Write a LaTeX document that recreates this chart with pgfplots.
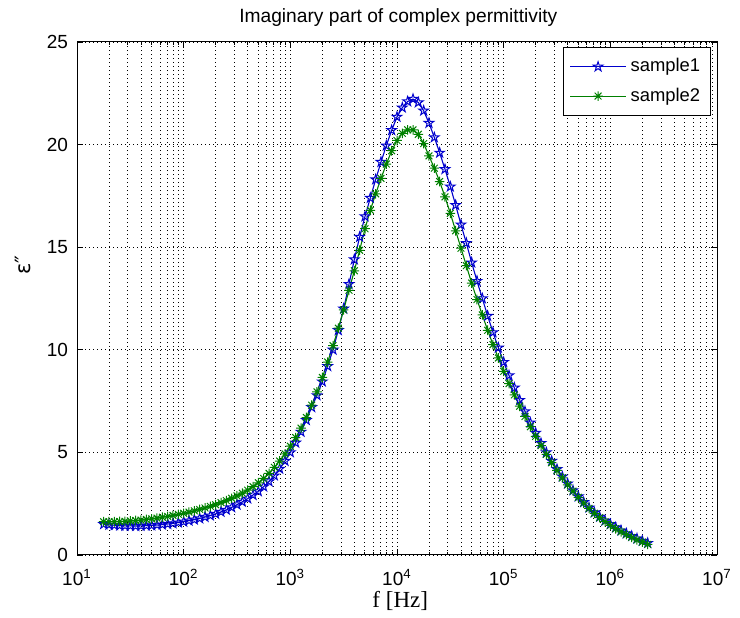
\documentclass[border=0pt]{standalone}
\usepackage{fontspec}
\setmainfont{Liberation Sans}
\newfontfamily\seriffont{Liberation Serif}
\newfontfamily\dejavu{DejaVu Sans}
\usepackage{pgfplots}
\pgfplotsset{compat=1.18}
\usepackage{pgfplotstable}

\definecolor{mlblue}{RGB}{0,0,205}
\definecolor{mlgreen}{RGB}{0,128,0}

\pgfdeclareplotmark{pentagram}{%
  \pgfpathmoveto{\pgfpointpolar{90}{\pgfplotmarksize}}%
  \pgfpathlineto{\pgfpointpolar{126}{0.382\pgfplotmarksize}}%
  \pgfpathlineto{\pgfpointpolar{162}{\pgfplotmarksize}}%
  \pgfpathlineto{\pgfpointpolar{198}{0.382\pgfplotmarksize}}%
  \pgfpathlineto{\pgfpointpolar{234}{\pgfplotmarksize}}%
  \pgfpathlineto{\pgfpointpolar{270}{0.382\pgfplotmarksize}}%
  \pgfpathlineto{\pgfpointpolar{306}{\pgfplotmarksize}}%
  \pgfpathlineto{\pgfpointpolar{342}{0.382\pgfplotmarksize}}%
  \pgfpathlineto{\pgfpointpolar{18}{\pgfplotmarksize}}%
  \pgfpathlineto{\pgfpointpolar{54}{0.382\pgfplotmarksize}}%
  \pgfpathclose
  \pgfusepathqstroke
}
\pgfdeclareplotmark{mlasterisk}{%
  \pgfpathmoveto{\pgfqpoint{0pt}{\pgfplotmarksize}}%
  \pgfpathlineto{\pgfqpoint{0pt}{-\pgfplotmarksize}}%
  \pgfpathmoveto{\pgfqpoint{\pgfplotmarksize}{0pt}}%
  \pgfpathlineto{\pgfqpoint{-\pgfplotmarksize}{0pt}}%
  \pgfpathmoveto{\pgfqpoint{0.707\pgfplotmarksize}{0.707\pgfplotmarksize}}%
  \pgfpathlineto{\pgfqpoint{-0.707\pgfplotmarksize}{-0.707\pgfplotmarksize}}%
  \pgfpathmoveto{\pgfqpoint{-0.707\pgfplotmarksize}{0.707\pgfplotmarksize}}%
  \pgfpathlineto{\pgfqpoint{0.707\pgfplotmarksize}{-0.707\pgfplotmarksize}}%
  \pgfusepathqstroke
}

\pgfplotstableread{
f b g
1.778e1 1.50 1.62
1.995e1 1.47 1.62
2.239e1 1.45 1.62
2.512e1 1.43 1.63
2.818e1 1.42 1.64
3.162e1 1.42 1.66
3.548e1 1.41 1.68
3.981e1 1.42 1.70
4.467e1 1.43 1.73
5.012e1 1.44 1.76
5.623e1 1.46 1.80
6.310e1 1.48 1.84
7.079e1 1.51 1.88
7.943e1 1.54 1.93
8.913e1 1.58 1.98
1.000e2 1.62 2.03
1.122e2 1.67 2.09
1.259e2 1.72 2.15
1.413e2 1.78 2.22
1.585e2 1.85 2.29
1.778e2 1.92 2.37
1.995e2 2.00 2.45
2.239e2 2.10 2.55
2.512e2 2.20 2.65
2.818e2 2.32 2.76
3.162e2 2.45 2.88
3.548e2 2.59 3.01
3.981e2 2.75 3.16
4.467e2 2.92 3.33
5.012e2 3.10 3.52
5.623e2 3.33 3.73
6.310e2 3.58 3.98
7.079e2 3.87 4.27
7.943e2 4.20 4.58
8.913e2 4.58 4.93
1.000e3 5.00 5.30
1.122e3 5.47 5.72
1.259e3 6.00 6.18
1.413e3 6.57 6.70
1.585e3 7.20 7.30
1.778e3 7.78 7.95
1.995e3 8.45 8.65
2.239e3 9.20 9.40
2.512e3 10.00 10.20
2.818e3 10.95 11.05
3.162e3 12.00 11.95
3.548e3 13.20 12.90
3.981e3 14.40 13.85
4.467e3 15.50 14.85
5.012e3 16.50 15.90
5.623e3 17.40 16.80
6.310e3 18.30 17.60
7.079e3 19.15 18.35
7.943e3 19.95 19.05
8.913e3 20.70 19.70
1.000e4 21.35 20.20
1.122e4 21.80 20.55
1.259e4 22.10 20.72
1.413e4 22.22 20.72
1.585e4 22.05 20.50
1.778e4 21.65 20.05
1.995e4 21.05 19.45
2.239e4 20.35 18.85
2.512e4 19.60 18.20
2.818e4 18.80 17.45
3.162e4 17.95 16.65
3.548e4 17.05 15.80
3.981e4 16.10 14.95
4.467e4 15.20 14.10
5.012e4 14.25 13.25
5.623e4 13.35 12.45
6.310e4 12.50 11.70
7.079e4 11.65 10.95
7.943e4 10.85 10.25
8.913e4 10.10 9.60
1.000e5 9.40 8.95
1.122e5 8.75 8.35
1.259e5 8.15 7.80
1.413e5 7.55 7.25
1.585e5 7.00 6.75
1.778e5 6.45 6.25
1.995e5 5.95 5.78
2.239e5 5.45 5.33
2.512e5 5.00 4.90
2.818e5 4.58 4.50
3.162e5 4.18 4.12
3.548e5 3.82 3.76
3.981e5 3.48 3.42
4.467e5 3.15 3.11
5.012e5 2.85 2.81
5.623e5 2.57 2.53
6.310e5 2.31 2.27
7.079e5 2.07 2.03
7.943e5 1.86 1.82
8.913e5 1.67 1.62
1.000e6 1.50 1.44
1.122e6 1.34 1.28
1.259e6 1.19 1.13
1.413e6 1.05 0.99
1.585e6 0.92 0.86
1.778e6 0.80 0.74
1.995e6 0.69 0.63
2.239e6 0.58 0.52
}\datatable

\begin{document}
\begin{tikzpicture}
\begin{axis}[
  name=ax,
  scale only axis,
  width=320pt, height=256.5pt,
  xmode=log,
  xmin=1e1, xmax=1e7, ymin=0, ymax=25,
  xtick={1e1,1e2,1e3,1e4,1e5,1e6,1e7},
  xticklabels={10\textsuperscript{1},10\textsuperscript{2},10\textsuperscript{3},10\textsuperscript{4},10\textsuperscript{5},10\textsuperscript{6},10\textsuperscript{7}},
  minor xtick={2e1,3e1,4e1,5e1,6e1,7e1,8e1,9e1,
               2e2,3e2,4e2,5e2,6e2,7e2,8e2,9e2,
               2e3,3e3,4e3,5e3,6e3,7e3,8e3,9e3,
               2e4,3e4,4e4,5e4,6e4,7e4,8e4,9e4,
               2e5,3e5,4e5,5e5,6e5,7e5,8e5,9e5,
               2e6,3e6,4e6,5e6,6e6,7e6,8e6,9e6},
  ytick={0,5,10,15,20,25},
  /pgf/number format/assume math mode=true,
  xmajorgrids, xminorgrids, ymajorgrids,
  major grid style={black, line width=0.45pt, dash pattern=on 0.5pt off 1.5pt},
  minor grid style={black, line width=0.45pt, dash pattern=on 0.5pt off 1.5pt},
  tick align=inside,
  tick pos=both,
  major tick length=3pt,
  minor tick length=1.6pt,
  tick style={black, line width=0.45pt},
  axis line style={black, line width=0.5pt},
  tick label style={font=\fontsize{9.5}{11}\selectfont},
  xticklabel style={yshift=-3.5pt},
  yticklabel style={xshift=-1pt},
  xlabel={\seriffont f [Hz]},
  xlabel style={font=\fontsize{11.5}{13}\selectfont, at={(axis description cs:0.505,-0.09)}, anchor=center},
  ylabel={\dejavu ε″},
  ylabel style={font=\fontsize{10.5}{12}\selectfont, at={(axis description cs:-0.085,0.565)}, anchor=center},
  every axis title shift=0pt,
  title={Imaginary part of complex permittivity},
  title style={font=\fontsize{9.6}{11}\selectfont, at={(axis description cs:0.502,1.047)}, anchor=center},
  legend style={at={(0.99,0.99)}, anchor=north east, draw=black, line width=0.45pt,
    fill=white, font=\fontsize{9.2}{11}\selectfont, row sep=2.5pt,
    inner xsep=3pt, inner ysep=3.5pt},
  legend cell align=left,
  legend image code/.code={\draw[mark repeat=2,mark phase=2,#1] plot coordinates {(0pt,0pt) (14pt,0pt) (28pt,0pt)};},
]
\addplot[mlblue, line width=0.55pt, mark=pentagram, mark size=2.5pt, mark options={line width=0.5pt}] table[x=f,y=b]{\datatable};
\addlegendentry{sample1}
\addplot[mlgreen, line width=0.55pt, mark=mlasterisk, mark size=2.4pt, mark options={line width=0.5pt}] table[x=f,y=g]{\datatable};
\addlegendentry{sample2}
\end{axis}
\pgfresetboundingbox
\path ([shift={(-38.5pt,-31.5pt)}]ax.south west) rectangle ([shift={(11.5pt,21pt)}]ax.north east);
\end{tikzpicture}
\end{document}
